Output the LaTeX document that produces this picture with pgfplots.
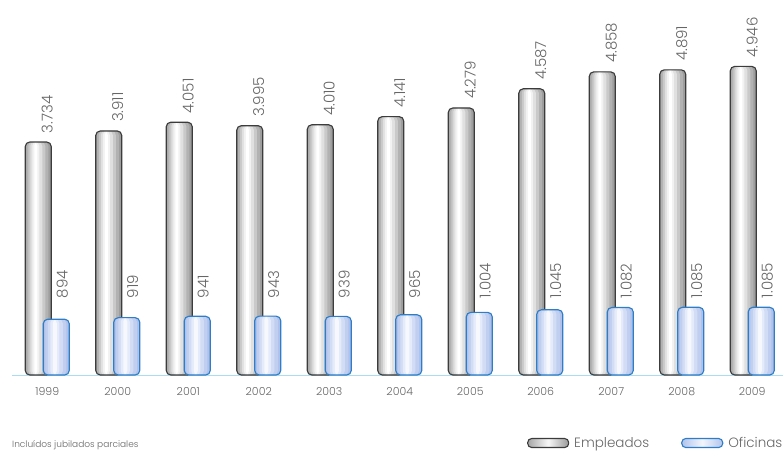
\documentclass[border=0pt]{standalone}
\usepackage{fontspec}
\setmainfont{Poppins Light}
\usepackage{pgfplots}
\usepackage{pgfplotstable}
\pgfplotsset{compat=1.18}
\definecolor{txt}{HTML}{666666}
\definecolor{axblue}{HTML}{A9DDF2}
\definecolor{gline}{HTML}{3C3C3C}
\definecolor{bline}{HTML}{2E7DC6}
\pgfplotstableread{
x emp emplabel ofi ofilabel labpos
0 3734 3.734 894 894 1230
1 3911 3.911 919 919 1230
2 4051 4.051 941 941 1230
3 3995 3.995 943 943 1230
4 4010 4.010 939 939 1230
5 4141 4.141 965 965 1230
6 4279 4.279 1004 1.004 1230
7 4587 4.587 1045 1.045 1230
8 4858 4.858 1082 1.082 1230
9 4891 4.891 1085 1.085 1230
10 4946 4.946 1085 1.085 1230
}\datatable
\tikzset{
  greybar/.style={draw=gline, line width=1.1pt, rounded corners=4.5pt, left color=black!35, right color=black!40, middle color=black!3},
  bluebar/.style={draw=bline, line width=1.1pt, rounded corners=4.5pt, left color={rgb,255:red,178;green,196;blue,236}, right color={rgb,255:red,178;green,196;blue,236}, middle color={rgb,255:red,242;green,245;blue,252}},
  layer/.style={draw=none, rounded corners=4pt},
}
\begin{document}
\begin{tikzpicture}[x=1pt,y=1pt]
\useasboundingbox (0,0) rectangle (783,453);
\begin{axis}[
  at={(12pt,78pt)}, anchor=south west,
  scale only axis, width=775.5pt, height=312pt,
  xmin=-0.5, xmax=10.5, ymin=0, ymax=5000,
  axis x line*=bottom, axis y line=none,
  x axis line style={draw=axblue, line width=0.9pt},
  xtick={0,...,10},
  xticklabels={1999,2000,2001,2002,2003,2004,2005,2006,2007,2008,2009},
  major x tick style={draw=none},
  tick align=outside,
  extra x ticks={-0.5,0.5,...,10.5},
  extra x tick labels={},
  extra x tick style={major tick length=5pt, tick style={draw=black!65, line width=0.9pt}},
  xticklabel style={font=\fontsize{11}{13}\selectfont, text=txt, yshift=-5pt},
  clip=false,
  legend columns=2,
  legend style={at={(0.664,-0.218)}, anchor=west, draw=none, fill=none, inner sep=0pt,
    font=\fontsize{13.5}{16}\selectfont, text=txt,
    /tikz/every odd column/.append style={column sep=3pt},
    /tikz/every even column/.append style={column sep=30pt}},
]
% --- grey bars: layered fills to give each bar its own gradient
\addplot[ybar, forget plot, bar width=26pt, bar shift=-9pt, layer, fill=black!38] table[x=x, y=emp] {\datatable};
\addplot[ybar, forget plot, bar width=22pt, bar shift=-10pt, layer, fill=black!30] table[x=x, y=emp] {\datatable};
\addplot[ybar, forget plot, bar width=17pt, bar shift=-10.5pt, layer, fill=black!21] table[x=x, y=emp] {\datatable};
\addplot[ybar, forget plot, bar width=12pt, bar shift=-11pt, layer, fill=black!12] table[x=x, y=emp] {\datatable};
\addplot[ybar, forget plot, bar width=7pt, bar shift=-11.5pt, layer, fill=black!5] table[x=x, y=emp] {\datatable};
\addplot[ybar, forget plot, bar width=3pt, bar shift=-11.5pt, layer, fill=white] table[x=x, y=emp] {\datatable};
\addplot[ybar, bar width=26pt, bar shift=-9pt, draw=gline, line width=1.1pt, fill=none, rounded corners=4.5pt,
  point meta=explicit symbolic, nodes near coords,
  every node near coord/.append style={rotate=90, anchor=west, inner sep=0pt, outer xsep=9pt,
    font=\fontsize{15}{18}\selectfont, text=txt},
  legend image code/.code={\draw[greybar, rounded corners=4pt] (0pt,-4.5pt) rectangle (41pt,4.5pt);}]
  table[x=x, y=emp, meta=emplabel] {\datatable};
\addlegendentry{Empleados}
% --- blue bars
\addplot[ybar, forget plot, bar width=26pt, bar shift=9pt, layer, fill={rgb,255:red,176;green,194;blue,235}] table[x=x, y=ofi] {\datatable};
\addplot[ybar, forget plot, bar width=21pt, bar shift=8.5pt, layer, fill={rgb,255:red,192;green,207;blue,240}] table[x=x, y=ofi] {\datatable};
\addplot[ybar, forget plot, bar width=15pt, bar shift=8pt, layer, fill={rgb,255:red,210;green,221;blue,245}] table[x=x, y=ofi] {\datatable};
\addplot[ybar, forget plot, bar width=9pt, bar shift=7.5pt, layer, fill={rgb,255:red,228;green,235;blue,250}] table[x=x, y=ofi] {\datatable};
\addplot[ybar, forget plot, bar width=4pt, bar shift=7.5pt, layer, fill={rgb,255:red,246;green,248;blue,254}] table[x=x, y=ofi] {\datatable};
\addplot[ybar, bar width=26pt, bar shift=9pt, draw=bline, line width=1.1pt, fill=none, rounded corners=4.5pt,
  legend image code/.code={\draw[bluebar, rounded corners=4pt] (0pt,-4.5pt) rectangle (41pt,4.5pt);}]
  table[x=x, y=ofi] {\datatable};
\addlegendentry{Oficinas}
% --- labels of the blue bars
\addplot[draw=none, mark=none, forget plot,
  point meta=explicit symbolic, nodes near coords,
  every node near coord/.append style={xshift=15pt, rotate=90, anchor=west, inner sep=0pt,
    font=\fontsize{15}{18}\selectfont, text=txt}]
  table[x=x, y=labpos, meta=ofilabel] {\datatable};
\end{axis}
\node[anchor=west, inner sep=0pt, text=txt, font=\fontsize{9}{11}\selectfont] at (12,8) {Incluídos jubilados parciales};
\end{tikzpicture}
\end{document}
